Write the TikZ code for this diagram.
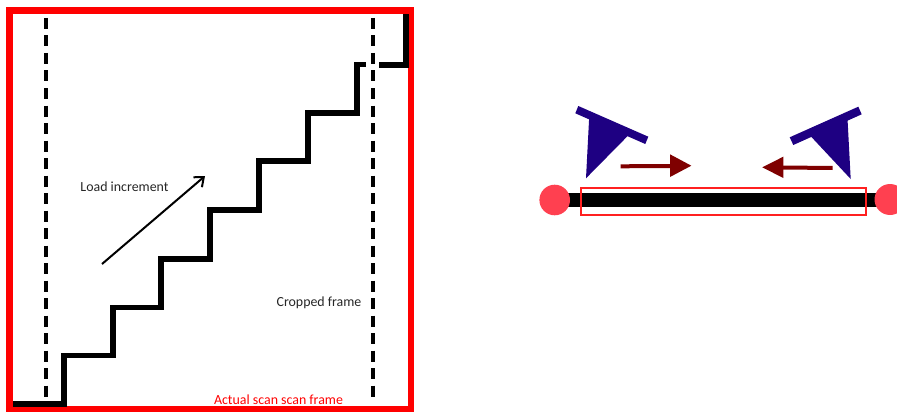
\documentclass[tikz,border=0pt]{standalone}
\usepackage{fontspec}
\setmainfont{Carlito}
\usetikzlibrary{arrows.meta}
\definecolor{framered}{HTML}{FF0000}
\definecolor{sensorblue}{HTML}{1E0082}
\definecolor{beamred}{HTML}{7F0000}
\definecolor{pinred}{HTML}{FF4050}
\definecolor{cropred}{HTML}{FF2020}
\definecolor{labelgrey}{HTML}{262626}
\tikzset{
  stairline/.style={line width=5.6pt,black,line join=miter},
  cropline/.style={line width=4.2pt,black,dash pattern=on 11pt off 6.5pt},
  label text/.style={font=\fontsize{13.9pt}{15pt}\selectfont,text=labelgrey,inner sep=0pt},
  sensor/.style={fill=sensorblue,draw=none},
  beamarrow/.style={line width=4pt,beamred},
  beamhead/.style={fill=beamred,draw=none},
}
\begin{document}
\begin{tikzpicture}[x=1pt,y=-1pt]
\useasboundingbox (0,0) rectangle (897,412);
\clip (0,0) rectangle (897,412);

% scan frame and cropped frame limits
\draw[framered,line width=6.5pt] (9.5,10.5) rectangle (411,409);
\draw[cropline] (46,18) -- (46,404);
\draw[cropline] (373,18) -- (373,400);

% load staircase
\draw[stairline] (13,404) -- (64,404) -- (64,355.5) -- (113,355.5) -- (113,307.5)
  -- (161,307.5) -- (161,259) -- (210,259) -- (210,210) -- (259,210) -- (259,161)
  -- (308,161) -- (308,113) -- (357,113) -- (357,64.5) -- (366,64.5);
\draw[stairline] (379,65) -- (406,65) -- (406,14);

% load direction
\coordinate (loadA) at (102,264);
\coordinate (loadB) at (205,176);
\draw[line width=2pt,black,-{Straight Barb[length=8pt,width=13pt,line width=2pt]}] (loadA) -- (loadB);

\node[label text] (loadlabel) at (124.5,186.5) {Load increment};
\node[label text] (croplabel) at (319,303) {Cropped frame};
\node[label text,text=framered] (scanlabel) at (278.5,400) {Actual scan scan frame};

% specimen with grips and region of interest
\draw[black,line width=13.4pt] (555,200) -- (890,200);
\fill[pinred] (554.7,200) circle (15.3);
\fill[pinred] (890,199.5) circle (15.5);
\draw[cropred,line width=1.8pt] (580.7,187.9) rectangle (866,215.3);

% left sensor
\fill[sensor] (578.3,106) -- (648.3,136.7) -- (645.3,144) -- (575.3,113.3) -- cycle;
\fill[sensor] (589.3,115) -- (630,133) -- (626.7,137) -- (586,178.3) -- cycle;
% right sensor
\fill[sensor] (858.3,106.7) -- (861.7,114.3) -- (793.3,145) -- (789.7,137.3) -- cycle;
\fill[sensor] (847.3,115) -- (808,133) -- (811.7,137.3) -- (850.7,179) -- cycle;

% beam directions
\coordinate (beamLa) at (620.7,166.3);
\coordinate (beamLb) at (672,166);
\draw[beamarrow] (beamLa) -- (beamLb);
\fill[beamhead] (670,154.3) -- (691.3,165.7) -- (670,177) -- cycle;
\coordinate (beamRa) at (832.7,168);
\coordinate (beamRb) at (782,167.5);
\draw[beamarrow] (beamRa) -- (beamRb);
\fill[beamhead] (783.3,156.7) -- (762.3,167.3) -- (783.3,178) -- cycle;
\end{tikzpicture}
\end{document}
